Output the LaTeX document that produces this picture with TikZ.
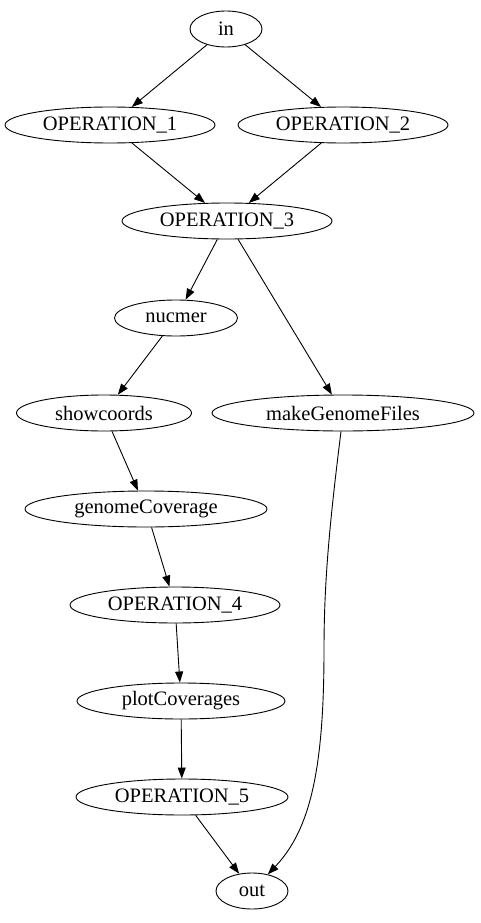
\documentclass[tikz,border=0pt]{standalone}
\usepackage{fontspec}
\setmainfont{Liberation Serif}
\usetikzlibrary{shapes.geometric,arrows.meta}
\begin{document}
\begin{tikzpicture}[x=1pt,y=-1pt,line width=0.9pt,
  nd/.style={ellipse,draw,inner sep=0pt,minimum height=36pt,font=\fontsize{20.5}{22}\selectfont},
  ar/.style={-{Triangle[length=11pt,width=8pt]}}]
\useasboundingbox (0,0) rectangle (480,923);
\node[nd,minimum width=72pt] (in) at (226,29) {in};
\node[nd,minimum width=210pt] (op1) at (110,125) {OPERATION\_1};
\node[nd,minimum width=210pt] (op2) at (343,125) {OPERATION\_2};
\node[nd,minimum width=210pt] (op3) at (227,221) {OPERATION\_3};
\node[nd,minimum width=123pt] (nuc) at (176,318) {nucmer};
\node[nd,minimum width=175pt] (show) at (104,413) {showcoords};
\node[nd,minimum width=262pt] (mgf) at (343,413) {makeGenomeFiles};
\node[nd,minimum width=242pt] (gc) at (146,509) {genomeCoverage};
\node[nd,minimum width=210pt] (op4) at (175,605) {OPERATION\_4};
\node[nd,minimum width=208pt] (pc) at (181,701) {plotCoverages};
\node[nd,minimum width=212pt] (op5) at (182,797) {OPERATION\_5};
\node[nd,minimum width=72pt] (out) at (252,891) {out};
\draw[ar] (in) -- (op1);
\draw[ar] (in) -- (op2);
\draw[ar] (op1) -- (op3);
\draw[ar] (op2) -- (op3);
\draw[ar] (op3) -- (nuc);
\draw[ar] (op3) -- (mgf);
\draw[ar] (nuc) -- (show);
\draw[ar] (show) -- (gc);
\draw[ar] (gc) -- (op4);
\draw[ar] (op4) -- (pc);
\draw[ar] (pc) -- (op5);
\draw[ar] (op5) -- (out);
\coordinate (m1) at (324,650);
\draw[ar] (mgf.south) ++(-2,0) .. controls (330,520) and (324,580) .. (m1) .. controls (324,770) and (310,830) .. (out);
\end{tikzpicture}
\end{document}
